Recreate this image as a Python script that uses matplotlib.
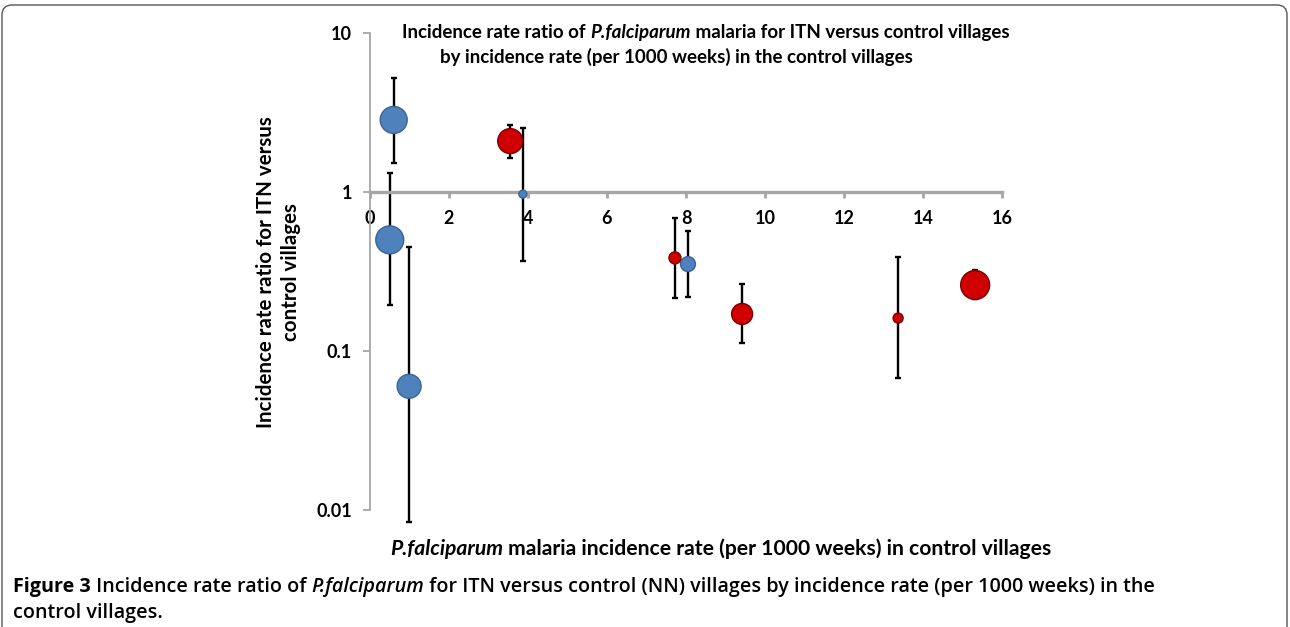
import matplotlib
matplotlib.use('Agg')
import matplotlib.pyplot as plt
from matplotlib.patches import FancyBboxPatch
from matplotlib.transforms import IdentityTransform
import numpy as np

# incidence rate in control villages (per 1000 weeks)
inc_rate = [0.60, 0.50, 0.99, 3.55, 3.87, 7.72, 8.05, 9.42, 13.37, 15.32]
# incidence rate ratio ITN vs control, with 95% limits
irr = [2.84, 0.50, 0.060, 2.09, 0.97, 0.385, 0.352, 0.171, 0.161, 0.26]
irr_lo = [1.52, 0.195, 0.0084, 1.64, 0.37, 0.215, 0.22, 0.112, 0.068, 0.212]
irr_hi = [5.2, 1.32, 0.45, 2.64, 2.53, 0.686, 0.57, 0.264, 0.39, 0.323]
group = ['b', 'b', 'b', 'r', 'b', 'r', 'b', 'r', 'r', 'r']
bubble = [182, 196, 144, 156, 16, 36, 56, 110, 25, 210]

xticks = [0, 2, 4, 6, 8, 10, 12, 14, 16]
yticks = [0.01, 0.1, 1, 10]
ytick_labels = ['0.01', '0.1', '1', '10']

W, H = 1290, 627
FONT = 'Lato'
CAPFONT = 'Open Sans'

fill = {'b': '#4F81BD', 'r': '#D00000'}
edge = {'b': '#3A6592', 'r': '#7A0000'}

fig = plt.figure(figsize=(W / 100, H / 100), dpi=100)
ax = fig.add_axes([370 / W, 1 - 510 / H, 632 / W, 477 / H])
ax.set_facecolor('none')

x = np.array(inc_rate)
y = np.array(irr)
yerr = [y - np.array(irr_lo), np.array(irr_hi) - y]
ax.errorbar(x, y, yerr=yerr, fmt='none', ecolor='black', elinewidth=1.7,
            capsize=2.5, capthick=1.7, zorder=2, clip_on=False)
for g in ['b', 'r']:
    idx = [i for i, v in enumerate(group) if v == g]
    ax.scatter(x[idx], y[idx], s=[bubble[i] * 2.07 for i in idx],
               c=fill[g], edgecolors=edge[g], linewidths=1.0, zorder=3,
               clip_on=False)

ax.set_yscale('log')
ax.set_xlim(0, 16)
ax.set_ylim(0.01, 10)
ax.set_xticks(xticks)
ax.set_xticklabels([str(t) for t in xticks])
ax.set_yticks(yticks)
ax.set_yticklabels(ytick_labels)
ax.yaxis.set_minor_locator(matplotlib.ticker.NullLocator())

for s in ['top', 'right']:
    ax.spines[s].set_visible(False)
ax.spines['bottom'].set_position(('data', 1))
ax.spines['bottom'].set_color('#A6A6A6')
ax.spines['bottom'].set_linewidth(2.4)
ax.spines['left'].set_color('#A6A6A6')
ax.spines['left'].set_linewidth(1.3)
ax.tick_params(axis='x', direction='out', length=4, width=2.0,
               color='#A6A6A6', pad=9)
ax.tick_params(axis='y', direction='out', length=5, width=1.3,
               color='#A6A6A6', pad=8)
for lab in ax.get_xticklabels() + ax.get_yticklabels():
    lab.set_fontfamily(FONT)
    lab.set_fontweight('bold')
    lab.set_fontsize(13)

renderer = fig.canvas.get_renderer()


def draw_runs(x0, ybase, runs):
    # place runs of differently styled text one after another on a line
    cur = x0
    for txt, props in runs:
        t = fig.text(cur / W, 1 - ybase / H, txt, va='baseline', ha='left',
                     **props)
        bb = t.get_window_extent(renderer)
        cur += bb.width


def style(sz, fam=FONT, weight='bold', italic=False):
    return dict(fontfamily=fam, fontweight=weight, fontsize=sz,
                fontstyle='italic' if italic else 'normal')


# title inside the plot
TS = 13.5
draw_runs(402, 38, [('Incidence rate ratio of ', style(TS)),
                    ('P.falciparum', style(TS, italic=True)),
                    (' malaria for ITN versus control villages', style(TS))])
draw_runs(440, 63, [('by incidence rate (per 1000 weeks) in the control villages',
                     style(TS))])

# y label
fig.text(266 / W, 1 - 272 / H, 'Incidence rate ratio for ITN versus',
         rotation=90, ha='center', va='center', **style(14.8))
fig.text(291 / W, 1 - 272 / H, 'control villages',
         rotation=90, ha='center', va='center', **style(14.8))

# x label
XS = 15.25
draw_runs(390, 555, [('P.falciparum', style(XS, italic=True)),
                     (' malaria incidence rate (per 1000 weeks) in control villages',
                      style(XS))])

# caption
CS = 14.2
draw_runs(13, 592, [('Figure 3', style(CS, CAPFONT, 'bold')),
                    (' Incidence rate ratio of ', style(CS, CAPFONT, 'semibold')),
                    ('P.falciparum', style(CS, CAPFONT, 'semibold', True)),
                    (' for ITN versus control (NN) villages by incidence rate '
                     '(per 1000 weeks) in the', style(CS, CAPFONT, 'semibold'))])
draw_runs(13, 618, [('control villages.', style(CS, CAPFONT, 'semibold'))])

# rounded frame around the figure panel
frame = FancyBboxPatch((2, -30), W - 5, H + 30 - 5,
                       boxstyle='round,pad=0,rounding_size=10',
                       transform=IdentityTransform(), fill=False,
                       edgecolor='#555555', linewidth=1.0)
fig.add_artist(frame)

fig.savefig('out.png', dpi=100)
